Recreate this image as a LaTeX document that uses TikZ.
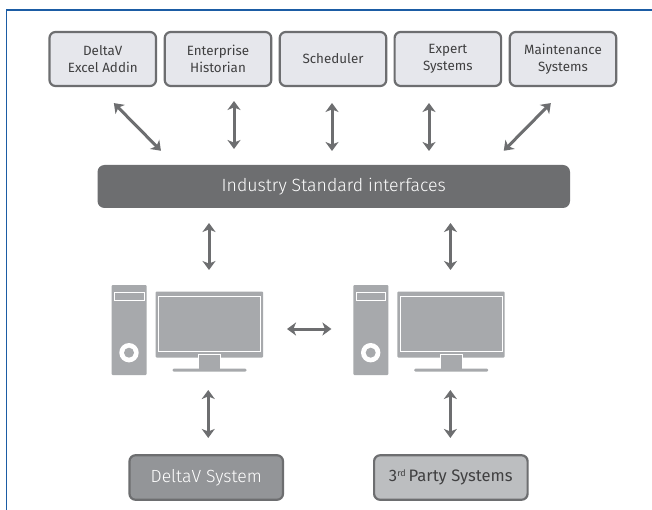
\documentclass[tikz,border=0pt]{standalone}
\usepackage{fontspec}
\setmainfont{Fira Sans}[UprightFont=* Light]
\newfontfamily\boxfont{Fira Sans}
\usetikzlibrary{arrows.meta,calc}
\definecolor{framecol}{HTML}{1B5CA4}
\definecolor{linecol}{HTML}{6D6E70}
\definecolor{boxfill}{HTML}{E6E7EC}
\definecolor{pcfill}{HTML}{A7A9AC}
\definecolor{dvfill}{HTML}{939598}
\definecolor{tpfill}{HTML}{BCBEC0}
\definecolor{txtcol}{HTML}{404041}
\tikzset{
  topbox/.style={draw=linecol,fill=boxfill,line width=2.2,rounded corners=6,outer sep=0,inner sep=0,
    minimum width=106.5,minimum height=54,align=center,text=txtcol,font=\boxfont\fontsize{13.4}{16.8}\selectfont},
  busbar/.style={fill=linecol,rounded corners=7,outer sep=0,inner sep=0,minimum width=472.5,minimum height=43,
    text=white,font=\fontsize{17.7}{20}\selectfont},
  sysbox/.style={draw=linecol,line width=2.2,rounded corners=6,outer sep=0,inner sep=0,minimum width=153.5,minimum height=44.5,
    font=\fontsize{17.6}{20}\selectfont},
  dbl/.style={draw=linecol,line width=3,{Stealth[length=9,width=13,inset=2.6]}-{Stealth[length=9,width=13,inset=2.6]}},
  pcpart/.style={fill=pcfill,rounded corners=1,outer sep=0,inner sep=0},
  pcline/.style={draw=white,line width=1}
}
\newcommand{\computer}[2]{%
  \node[pcpart,minimum width=35,minimum height=90] (tower#1) at (#2+129.2,330) {};
  \draw[pcline] (#2+114.5,292.7) rectangle (#2+144,300.7);
  \fill[white] (#2+129,352.7) circle (9.7);
  \fill[pcfill] (#2+129,352.7) circle (5);
  \node[pcpart,minimum width=107.3,minimum height=66] (mon#1) at (#2+209.35,324.5) {};
  \draw[pcline] (#2+158.5,296) rectangle (#2+260.5,351.5);
  \fill[pcfill] (#2+198.5,354.5) rectangle (#2+220.5,369.5);
  \draw[pcline] (#2+198.5,369) -- (#2+198.5,354.5) -- (#2+220.5,354.5) -- (#2+220.5,369);
  \fill[pcfill,rounded corners=1.4] (#2+172.5,368.5) rectangle (#2+246.5,371.7);
}
\begin{document}
\begin{tikzpicture}[x=1pt,y=-1pt]
\useasboundingbox (0,0) rectangle (652,510);
\fill[white] (0,0) rectangle (652,510);
\draw[framecol,line width=1.3] (6.5,510) -- (6.5,10) -- (652,10);
\node[topbox] (b1) at (102.75,59) {DeltaV\\Excel Addin};
\node[topbox] (b2) at (218,59) {Enterprise\\Historian};
\node[topbox] (b3) at (333,59) {Scheduler};
\node[topbox] (b4) at (447.85,59) {Expert\\Systems};
\node[topbox] (b5) at (563,59) {Maintenance\\Systems};
\node[busbar] (bus) at (333.75,186.5) {Industry Standard interfaces};
\computer{L}{0}
\computer{R}{241.7}
\node[sysbox,fill=dvfill,text=white] (sysa) at (206.25,477.5) {DeltaV System};
\node[sysbox,fill=tpfill,text=txtcol,font=\boxfont\fontsize{16.6}{20}\selectfont] (sysb) at (450.85,477.5) {3\smash{\raisebox{5.5pt}{\fontsize{9}{9}\selectfont rd}}\,Party Systems};
% top connectors
\draw[dbl,shorten <=24,shorten >=20] ([xshift=-5.75]b1.south) -- ([xshift=-5.75+78]b1.south |- bus.north);
\draw[dbl,shorten <=15,shorten >=16] ([xshift=16]b2.south) -- ([xshift=16]b2.south |- bus.north);
\draw[dbl,shorten <=17,shorten >=14] ([xshift=-1]b3.south) -- ([xshift=-1]b3.south |- bus.north);
\draw[dbl,shorten <=17,shorten >=14] ([xshift=-18.85]b4.south) -- ([xshift=-18.85]b4.south |- bus.north);
\draw[dbl,shorten <=24,shorten >=20] ([xshift=4.7]b5.south) -- ([xshift=4.7-78]b5.south |- bus.north);
% bus to computers
\draw[dbl,shorten <=15,shorten >=21.5] ([xshift=-124.75]bus.south) -- ([xshift=-124.75]bus.south |- monL.north);
\draw[dbl,shorten <=15,shorten >=21.5] ([xshift=116.75]bus.south) -- ([xshift=116.75]bus.south |- monR.north);
% between computers
\draw[dbl,shorten <=24,shorten >=22] ([yshift=-4.5]monL.east) -- ([yshift=-4.5]monL.east -| towerR.west) ;
% computers to systems
\draw[dbl,shorten <=18.5,shorten >=17.3] ([yshift=0]sysa.north |- monL.south) ++(2,14) -- ([xshift=2]sysa.north);
\draw[dbl,shorten <=18.5,shorten >=17.3] ([yshift=0]sysb.north |- monR.south) ++(-0.5,14) -- ([xshift=-0.5]sysb.north);
\end{tikzpicture}
\end{document}
